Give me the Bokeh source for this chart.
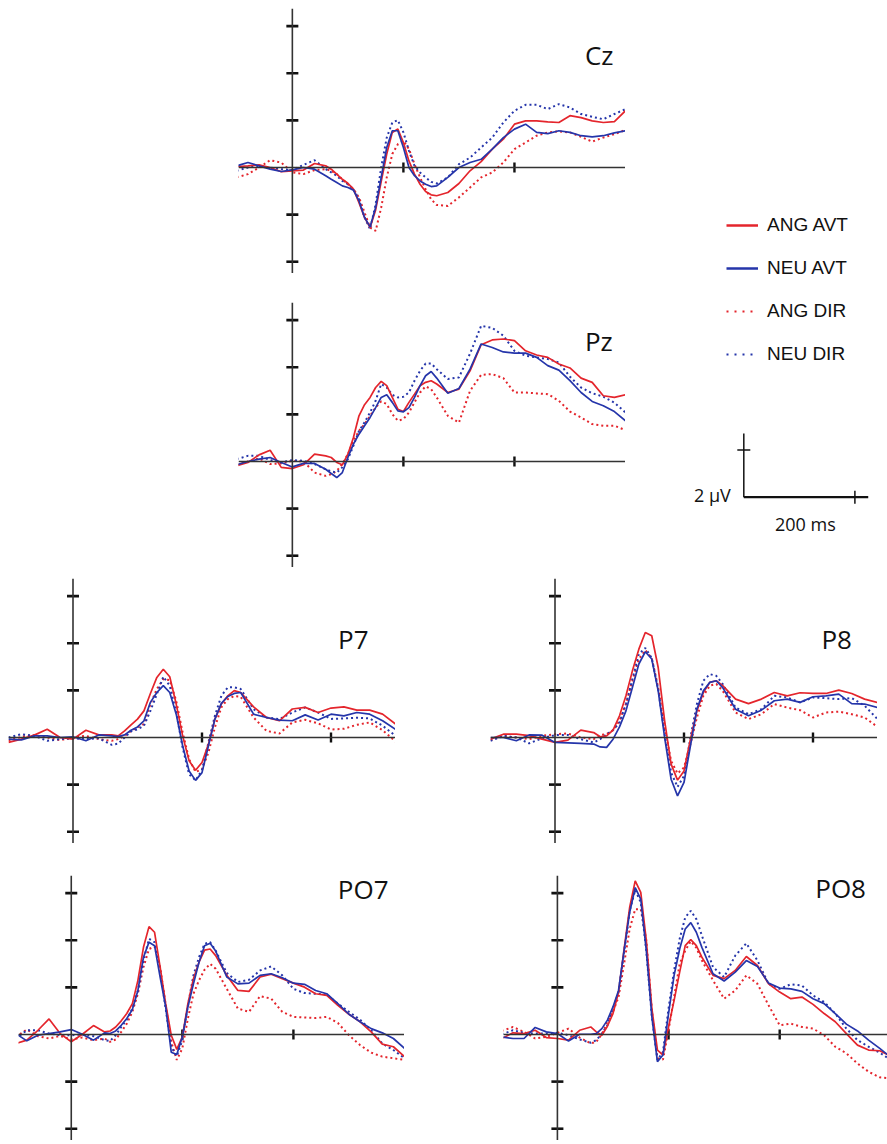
import math
from bokeh.plotting import figure
from bokeh.models import Range1d, Span, Label, Legend, LegendItem, Spacer
from bokeh.layouts import row, column
from bokeh.embed import file_html
from bokeh.resources import INLINE

# ---------------- data ----------------
# time grids (ms)
t_long = [-100, -80, -60, -40, -20, 0, 20, 40] + list(range(60, 261, 10)) + list(range(280, 601, 20))
t_short = [-100, -80, -60, -40, -20, 0, 20, 40] + list(range(60, 261, 10)) + list(range(280, 501, 20))

series_names = ["ANG AVT", "NEU AVT", "ANG DIR", "NEU DIR"]

# amplitudes (µV)
cz_ang_avt = [0.04, 0.07, 0.11, 0.0, -0.18, -0.14, -0.11, 0.17, 0.07, -0.07, -0.28, -0.5, -0.67, -0.92, -1.49, -2.12, -2.55, -1.8, -0.6, 0.57, 1.49, 1.63, 1.06, 0.28, -0.28, -0.71, -1.02, -1.16, -1.2, -1.06, -0.68, -0.14, 0.25, 0.78, 1.2, 1.84, 1.98, 1.98, 1.94, 1.91, 2.2, 2.12, 1.98, 1.91, 1.95, 2.41]
cz_neu_avt = [0.07, 0.21, 0.07, -0.07, -0.17, -0.1, 0, -0.07, -0.35, -0.5, -0.64, -0.78, -0.85, -0.96, -1.42, -2.12, -2.52, -1.7, -0.42, 0.85, 1.56, 1.56, 0.85, 0, -0.35, -0.57, -0.71, -0.81, -0.78, -0.42, 0.0, 0.21, 0.35, 0.78, 1.27, 1.63, 1.84, 1.49, 1.44, 1.56, 1.49, 1.35, 1.3, 1.35, 1.47, 1.56]
cz_ang_dir = [-0.42, -0.28, 0, 0.31, 0.21, -0.21, -0.28, -0.11, -0.07, -0.14, -0.28, -0.5, -0.71, -0.92, -1.27, -1.91, -2.55, -2.69, -1.7, -0.42, 0.57, 0.99, 1.13, 0.78, 0.14, -0.42, -0.92, -1.35, -1.59, -1.63, -1.27, -0.85, -0.42, -0.21, 0.21, 0.78, 1.06, 1.35, 1.49, 1.53, 1.49, 1.3, 1.1, 1.27, 1.42, 1.59]
cz_neu_dir = [-0.14, 0, 0.07, 0, -0.07, -0.11, 0.11, 0.31, -0.07, -0.21, -0.35, -0.57, -0.71, -0.92, -1.35, -2.12, -2.62, -1.56, 0.0, 1.27, 1.91, 2.01, 1.49, 0.71, 0.07, -0.21, -0.42, -0.61, -0.68, -0.42, 0.14, 0.42, 0.85, 1.27, 1.91, 2.41, 2.66, 2.66, 2.48, 2.69, 2.55, 2.27, 2.15, 2.05, 2.27, 2.48]

pz_ang_avt = [-0.18, -0.04, 0.28, 0.48, -0.25, -0.3, -0.14, 0.31, 0.24, 0.17, -0.04, -0.14, 0.31, 1.02, 1.94, 2.41, 2.72, 3.14, 3.4, 3.22, 2.72, 2.22, 2.12, 2.51, 2.86, 3.22, 3.36, 3.43, 3.29, 2.93, 3.07, 3.85, 4.96, 5.16, 5.2, 5.13, 4.7, 4.52, 4.42, 4.14, 3.97, 3.54, 3.36, 2.79, 2.72, 2.83]
pz_neu_avt = [-0.14, 0, 0.1, 0.17, -0.04, -0.23, -0.08, -0.08, -0.33, -0.51, -0.68, -0.47, 0.17, 0.74, 1.16, 1.52, 1.87, 2.29, 2.72, 2.83, 2.51, 2.15, 2.11, 2.29, 2.72, 3.22, 3.64, 3.82, 3.54, 2.9, 3.1, 3.92, 4.99, 4.84, 4.65, 4.6, 4.6, 4.42, 4.07, 3.88, 3.43, 2.93, 2.55, 2.37, 2.12, 1.73]
pz_ang_dir = [-0.14, 0, 0.13, -0.11, -0.08, 0.03, 0, -0.47, -0.61, -0.54, -0.4, -0.11, 0.31, 0.88, 1.3, 1.59, 1.94, 2.29, 2.55, 2.44, 2.01, 1.73, 1.8, 2.08, 2.51, 2.93, 3.19, 3.07, 2.72, 1.94, 1.65, 3.0, 3.68, 3.71, 3.54, 2.93, 2.93, 2.89, 2.86, 2.58, 2.12, 1.87, 1.59, 1.52, 1.52, 1.33]
pz_neu_dir = [0.1, 0.24, 0.24, 0.06, -0.04, 0.06, 0.03, -0.11, -0.33, -0.42, -0.47, -0.25, 0.1, 0.67, 1.3, 1.66, 2.08, 2.58, 3.29, 3.14, 2.83, 2.72, 2.75, 2.93, 3.43, 3.85, 4.16, 4.16, 3.92, 3.5, 3.57, 4.58, 5.76, 5.67, 5.34, 4.7, 4.49, 4.42, 4.35, 4.2, 3.6, 3.14, 2.9, 2.75, 2.5, 2.08]

p7_ang_avt = [-0.21, -0.07, 0.1, 0.35, 0, -0.07, 0.31, 0.11, 0.11, 0.07, 0.28, 0.54, 0.78, 1.13, 1.87, 2.55, 2.9, 2.58, 1.42, 0.07, -0.99, -1.39, -1.06, -0.28, 0.78, 1.42, 1.77, 1.99, 1.91, 1.3, 0.85, 0.71, 1.21, 1.28, 1.06, 1.25, 1.3, 1.16, 1.16, 0.99, 0.57]
p7_neu_avt = [-0.07, -0.1, 0.07, 0.07, 0, 0.03, -0.14, 0.11, 0.07, 0.04, 0.11, 0.31, 0.45, 0.71, 1.49, 1.91, 2.2, 1.91, 0.99, -0.35, -1.42, -1.82, -1.49, -0.35, 0.78, 1.45, 1.74, 1.87, 1.91, 0.99, 0.85, 0.74, 0.71, 0.96, 0.74, 0.99, 0.92, 1.06, 0.99, 0.71, 0.35]
p7_ang_dir = [-0.14, 0.03, 0.1, 0, -0.11, 0, 0.07, -0.07, -0.14, -0.07, 0.07, 0.28, 0.43, 0.57, 1.42, 2.06, 2.48, 2.44, 1.56, 0.21, -0.92, -1.46, -1.35, -0.64, 0.43, 1.28, 1.63, 1.76, 1.73, 0.85, 0.28, 0.17, 0.64, 0.75, 0.6, 0.34, 0.37, 0.54, 0.64, 0.31, -0.17]
p7_neu_dir = [0, 0.14, 0.07, -0.14, -0.07, -0.03, -0.07, -0.03, -0.31, -0.26, 0, 0.26, 0.35, 0.5, 1.13, 1.84, 2.58, 2.2, 1.06, -0.43, -1.56, -1.82, -1.38, -0.21, 0.92, 1.77, 2.13, 2.13, 2.06, 1.2, 0.85, 0.78, 1.06, 1.28, 1.06, 0.79, 0.81, 0.84, 0.81, 0.5, 0.07]

p8_ang_avt = [-0.07, 0.14, 0.14, 0.08, -0.07, -0.21, -0.11, 0.31, 0.21, 0.03, 0.07, 0.31, 0.92, 1.77, 2.83, 3.75, 4.46, 4.32, 2.97, 0.71, -1.13, -1.81, -1.42, -0.07, 1.13, 1.91, 2.34, 2.41, 2.2, 1.63, 1.44, 1.63, 1.91, 1.77, 1.9, 1.87, 1.87, 2.01, 1.87, 1.63, 1.49]
p8_neu_avt = [0, 0, -0.14, 0.11, 0.1, -0.21, -0.23, -0.25, -0.28, -0.4, -0.42, -0.07, 0.45, 1.13, 2.12, 3.12, 3.64, 3.33, 1.98, 0, -1.77, -2.48, -1.91, -0.35, 1.2, 1.98, 2.34, 2.41, 2.12, 1.2, 0.92, 1.16, 1.56, 1.63, 1.49, 1.73, 1.77, 1.84, 1.44, 1.42, 1.27]
p8_ang_dir = [-0.11, 0.07, 0, -0.07, 0.07, 0.14, 0.17, 0, -0.07, 0.11, 0.14, 0.31, 0.71, 1.42, 2.41, 3.33, 3.71, 3.37, 2.12, 0.42, -0.99, -1.53, -1.27, -0.28, 0.85, 1.77, 2.2, 2.27, 1.98, 1.06, 0.78, 0.99, 1.42, 1.27, 1.16, 0.85, 1.06, 1.1, 0.99, 0.85, 0.45]
p8_neu_dir = [-0.14, 0.07, 0, -0.25, -0.03, 0.1, 0.11, -0.07, -0.21, -0.07, 0.14, 0.31, 0.64, 1.42, 2.48, 3.54, 3.8, 3.37, 2.05, 0.14, -1.49, -2.1, -1.63, 0, 1.42, 2.41, 2.69, 2.62, 2.27, 1.27, 0.99, 1.2, 1.77, 1.7, 1.49, 1.7, 1.67, 1.63, 1.67, 1.35, 0.78]

po7_ang_avt = [-0.38, -0.24, 0.18, 0.66, 0.04, -0.31, 0.01, 0.38, 0.11, 0.15, 0.32, 0.58, 0.89, 1.31, 2.3, 3.7, 4.58, 4.34, 2.86, 1.31, -0.03, -0.63, -0.1, 1.31, 2.37, 3.07, 3.58, 3.63, 3.35, 2.51, 1.87, 1.83, 2.44, 2.56, 2.37, 2.18, 2.01, 1.73, 1.66, 1.24, 0.86, 0.54, 0.11, -0.41, -0.52, -0.94]
po7_neu_avt = [0.04, -0.27, -0.03, 0.04, 0.11, 0.21, 0.01, -0.24, 0.07, 0.04, 0.15, 0.39, 0.68, 1.06, 1.87, 3.28, 3.92, 3.77, 2.44, 1.17, -0.75, -0.85, -0.1, 1.17, 2.15, 3.07, 3.77, 3.87, 3.54, 2.44, 2.15, 2.18, 2.51, 2.58, 2.41, 2.18, 2.13, 1.87, 1.73, 1.31, 0.86, 0.54, 0.25, 0.07, -0.17, -0.59]
po7_ang_dir = [-0.1, 0.21, -0.07, -0.17, -0.06, -0.21, -0.13, -0.24, -0.17, -0.31, -0.21, 0.11, 0.46, 0.96, 1.73, 2.86, 3.63, 3.73, 2.86, 1.24, -0.31, -1.08, -0.59, 0.68, 1.73, 2.3, 2.75, 3.0, 2.79, 1.94, 1.1, 0.96, 1.63, 1.52, 0.96, 0.75, 0.72, 0.7, 0.75, 0.49, -0.03, -0.45, -0.77, -0.94, -1.01, -1.08]
po7_neu_dir = [-0.17, 0.18, 0.18, 0.04, -0.03, -0.03, 0, -0.07, -0.24, -0.27, -0.03, 0.32, 0.63, 1.1, 1.87, 3.14, 4.06, 3.92, 2.72, 1.1, -0.52, -0.92, -0.24, 1.24, 2.51, 3.28, 3.85, 3.92, 3.56, 2.61, 2.23, 2.32, 2.72, 2.89, 2.51, 1.94, 1.76, 1.73, 1.7, 1.31, 0.96, 0.63, 0.18, -0.38, -0.66, -1.01]

po8_ang_avt = [-0.17, 0.07, 0.04, 0.18, -0.13, -0.17, -0.24, 0.18, 0.32, 0.11, -0.03, 0.35, 0.89, 1.79, 3.63, 5.39, 6.52, 6.03, 3.99, 1.1, -0.66, -0.87, 0.32, 1.45, 2.65, 3.77, 4.03, 3.77, 3.28, 2.51, 2.37, 2.72, 3.31, 2.93, 2.15, 1.8, 1.52, 1.59, 1.28, 0.89, 0.54, 0.04, -0.45, -0.66, -0.69, -0.92]
po8_neu_avt = [-0.1, -0.17, -0.17, 0.3, 0.11, 0.04, -0.28, 0.01, 0.01, 0.04, 0.25, 0.61, 1.17, 1.87, 3.56, 5.18, 6.24, 5.75, 3.56, 0.75, -1.15, -0.87, 0.89, 2.51, 3.63, 4.48, 4.75, 4.34, 3.7, 2.58, 2.27, 2.65, 3.14, 2.89, 2.18, 1.97, 1.94, 1.83, 1.52, 1.31, 0.89, 0.44, 0.15, -0.24, -0.59, -0.97]
po8_ang_dir = [0.15, 0.32, 0.11, -0.17, -0.1, 0.07, 0.25, -0.13, -0.38, -0.31, 0.01, 0.54, 0.96, 1.59, 3.0, 4.48, 5.32, 5.32, 3.99, 1.03, -1.01, -1.06, 0.18, 1.59, 3.0, 3.56, 3.96, 3.68, 3.14, 2.3, 1.52, 1.87, 2.51, 2.15, 1.24, 0.39, 0.46, 0.32, 0.25, -0.03, -0.52, -0.8, -1.23, -1.58, -1.82, -1.86]
po8_neu_dir = [0.01, 0.18, 0.07, 0.04, 0.04, 0.07, -0.03, -0.21, -0.35, -0.24, 0.04, 0.39, 1.1, 1.8, 3.49, 5.25, 6.13, 5.61, 3.56, 0.75, -1.08, -0.73, 1.1, 2.72, 4.06, 4.97, 5.25, 4.9, 4.2, 2.86, 2.44, 3.35, 3.87, 3.14, 2.15, 1.94, 2.13, 2.08, 1.66, 1.38, 0.89, 0.25, -0.24, -0.52, -0.77, -1.08]

y_ticks = [-4, -2, 2, 4, 6]
x_ticks = [200, 400]
scale_ms = 200
scale_uv = 2

# ---------------- style ----------------
RED = "#e4252c"
BLUE = "#2535aa"
AXIS = "#333333"
LABEL_FONT = "Open Sans"
Y0, Y1 = -4.5, 6.75
PANEL_H = 265

styles = {
    "ANG AVT": dict(line_color=RED, line_width=1.7, line_dash="solid"),
    "NEU AVT": dict(line_color=BLUE, line_width=1.7, line_dash="solid"),
    "ANG DIR": dict(line_color=RED, line_width=2.0, line_dash="2 3"),
    "NEU DIR": dict(line_color=BLUE, line_width=2.0, line_dash="2 3"),
}
legend_styles = {
    "ANG AVT": dict(line_color=RED, line_width=2.4, line_dash="solid"),
    "NEU AVT": dict(line_color=BLUE, line_width=2.4, line_dash="solid"),
    "ANG DIR": dict(line_color=RED, line_width=2.2, line_dash="2 6"),
    "NEU DIR": dict(line_color=BLUE, line_width=2.2, line_dash="2 6"),
}
draw_order = ["ANG DIR", "NEU DIR", "ANG AVT", "NEU AVT"]


def panel(name, times, curves, x0, x1, width, label_x, label_y, border_top=0):
    p = figure(width=width, height=PANEL_H + border_top,
               x_range=Range1d(x0, x1), y_range=Range1d(Y0, Y1),
               x_axis_location=None, y_axis_location=None,
               toolbar_location=None, min_border=0, min_border_top=border_top,
               outline_line_color=None, output_backend="svg")
    p.grid.visible = False
    p.add_layout(Span(location=0, dimension="height", line_color=AXIS, line_width=1.6))
    p.add_layout(Span(location=0, dimension="width", line_color=AXIS, line_width=1.6))
    p.scatter(x=[0] * len(y_ticks), y=y_ticks, marker="dash", size=12,
              line_color="#111111", line_width=2.6)
    p.scatter(x=x_ticks, y=[0] * len(x_ticks), marker="dash", angle=math.pi / 2,
              size=10, line_color="#111111", line_width=2.4)
    for key in draw_order:
        p.line(times, curves[key], **styles[key])
    p.add_layout(Label(x=label_x, y=label_y, text=name, text_font=LABEL_FONT,
                       text_font_size="26px", text_color="#111111",
                       text_align="left", text_baseline="alphabetic"))
    return p


def curves_of(a, b, c, d):
    return dict(zip(series_names, [a, b, c, d]))


cz = panel("Cz", t_long, curves_of(cz_ang_avt, cz_neu_avt, cz_ang_dir, cz_neu_dir),
           -97, 600, 387, 527, 4.77)
pz = panel("Pz", t_long, curves_of(pz_ang_avt, pz_neu_avt, pz_ang_dir, pz_neu_dir),
           -97, 600, 387, 527, 5.13)
p7 = panel("P7", t_short, curves_of(p7_ang_avt, p7_neu_avt, p7_ang_dir, p7_neu_dir),
           -100, 500, 387, 411, 4.18)
p8 = panel("P8", t_short, curves_of(p8_ang_avt, p8_neu_avt, p8_ang_dir, p8_neu_dir),
           -100, 500, 387, 413, 4.18)
po7 = panel("PO7", t_long, curves_of(po7_ang_avt, po7_neu_avt, po7_ang_dir, po7_neu_dir),
            -95, 600, 386, 480, 6.16, border_top=10)
po8 = panel("PO8", t_long, curves_of(po8_ang_avt, po8_neu_avt, po8_ang_dir, po8_neu_dir),
            -97, 594, 384, 464, 6.2, border_top=10)

# ---------------- legend + scale bar panel ----------------
rf = figure(width=262, height=567, x_range=Range1d(-213, 258.7), y_range=Range1d(-2.985, 21.09),
            x_axis_location=None, y_axis_location=None, toolbar_location=None,
            min_border=0, outline_line_color=None, output_backend="svg")
rf.grid.visible = False
NAN = float("nan")
items = []
for key in series_names:
    # legend-only renderers: no visible data of their own
    r = rf.line(x=[NAN, NAN], y=[NAN, NAN], **legend_styles[key])
    items.append(LegendItem(label=key, renderers=[r]))
legend = Legend(items=items, location=(101, 202), orientation="vertical",
                glyph_width=32, glyph_height=20, label_height=20, spacing=21,
                padding=0, margin=0, label_standoff=9,
                border_line_color=None, background_fill_alpha=0,
                label_text_font="Liberation Sans", label_text_font_size="19px",
                label_text_color="#111111")
rf.add_layout(legend)

rf.segment(x0=[0, 0], y0=[0, 0], x1=[0, scale_ms * 1.12], y1=[scale_uv * 1.35, 0],
           line_color="#111111", line_width=[1.5, 2.2])
rf.scatter(x=[0], y=[scale_uv], marker="dash", size=13, line_color="#111111", line_width=1.5)
rf.scatter(x=[scale_ms], y=[0], marker="dash", angle=math.pi / 2, size=13,
           line_color="#111111", line_width=1.5)
rf.add_layout(Label(x=0, y=0, x_offset=-13, y_offset=2, text=f"{scale_uv} µV",
                    text_font=LABEL_FONT, text_font_size="18px", text_color="#111111",
                    text_align="right", text_baseline="alphabetic"))
rf.add_layout(Label(x=scale_ms / 2, y=0, x_offset=6, y_offset=-26.5, text=f"{scale_ms} ms",
                    text_font=LABEL_FONT, text_font_size="18px", text_color="#111111",
                    text_align="center", text_baseline="alphabetic"))

# ---------------- layout ----------------
top_left = column(Spacer(width=387, height=8), cz, Spacer(width=387, height=29), pz)
top = row(Spacer(width=238, height=567), top_left, rf)
mid = row(Spacer(width=8, height=PANEL_H), p7, Spacer(width=95, height=PANEL_H), p8)
bot = row(Spacer(width=18, height=PANEL_H + 10), po7, Spacer(width=99, height=PANEL_H + 10), po8)
layout = column(top, Spacer(width=887, height=11), mid, Spacer(width=887, height=22), bot)

open("out.html", "w").write(file_html(layout, INLINE))
